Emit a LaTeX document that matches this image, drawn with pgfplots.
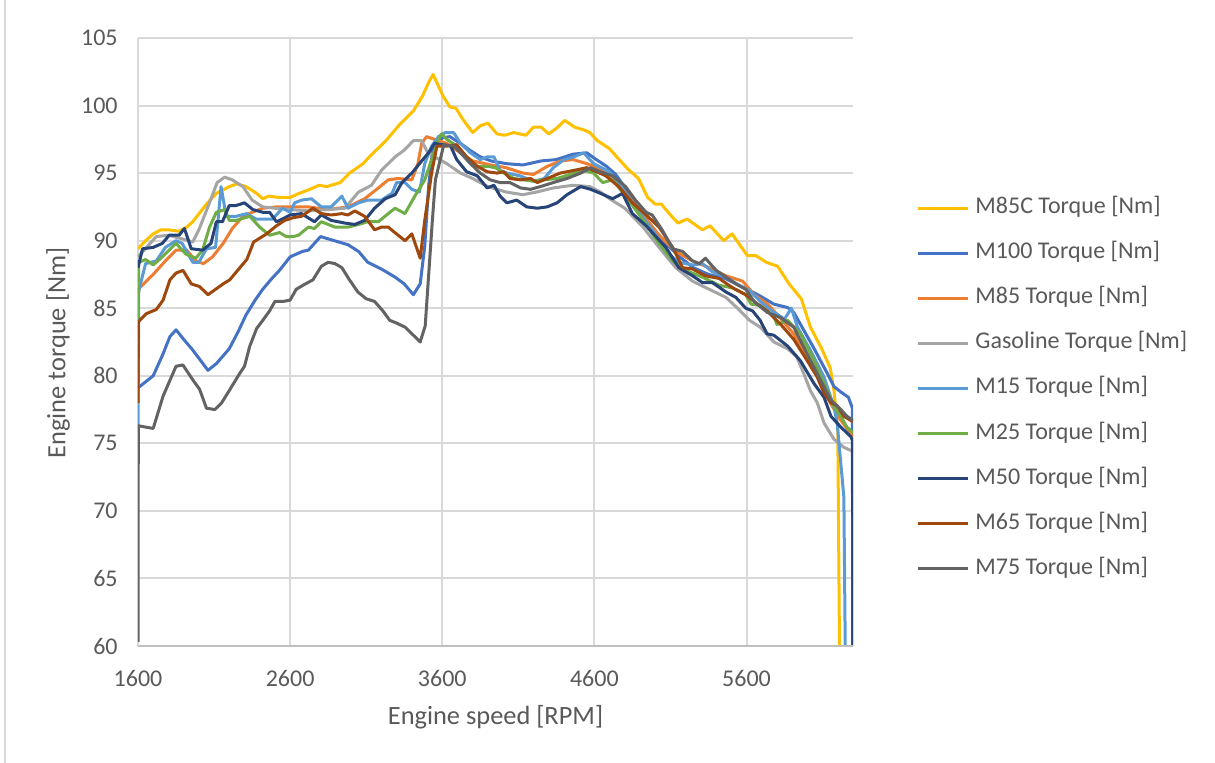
\documentclass[border=0pt]{standalone}
\usepackage{pgfplots}
\pgfplotsset{compat=1.18}
\usepackage{fontspec}
\setmainfont{Carlito}
\definecolor{cMeightyfiveC}{HTML}{FFC000}
\definecolor{cMhundred}{HTML}{4472C4}
\definecolor{cMeightyfive}{HTML}{ED7D31}
\definecolor{cGas}{HTML}{A5A5A5}
\definecolor{cMfifteen}{HTML}{5B9BD5}
\definecolor{cMtwentyfive}{HTML}{70AD47}
\definecolor{cMfifty}{HTML}{264478}
\definecolor{cMsixtyfive}{HTML}{9E480E}
\definecolor{cMseventyfive}{HTML}{636363}
\definecolor{gridc}{HTML}{D9D9D9}
\definecolor{txt}{HTML}{595959}
\definecolor{axc}{HTML}{BFBFBF}
\newcommand{\chartfont}{\fontsize{12}{14}\selectfont}
\newcommand{\titlefont}{\fontsize{13.2}{15}\selectfont}
\begin{document}
\begin{tikzpicture}
\path[use as bounding box] (0pt,0pt) rectangle (607.5pt,381.5pt);
\draw[gridc, line width=1pt] (2.5pt,0pt) -- (2.5pt,381.5pt);
\begin{axis}[
  at={(69pt,58.5pt)}, anchor=south west,
  scale only axis, width=357.5pt, height=304pt,
  xmin=1600, xmax=6300, ymin=60, ymax=105,
  xtick={1600,2600,3600,4600,5600},
  ytick={60,65,70,75,80,85,90,95,100,105},
  grid=major, major grid style={color=gridc, line width=1pt},
  axis line style={draw=none},
  tick style={draw=none},
  /pgf/number format/assume math mode=true,
  /pgf/number format/1000 sep={},
  ticklabel style={font=\chartfont, text=txt},
  yticklabel style={anchor=east, inner sep=0pt, xshift=-10pt},
  xticklabel style={anchor=center, inner sep=0pt, yshift=-16pt},
  xlabel={Engine speed [RPM]}, ylabel={Engine torque [Nm]},
  label style={font=\titlefont, text=txt},
  xlabel style={at={(axis description cs:0.5,0)}, anchor=center, yshift=-35.5pt},
  ylabel style={at={(axis description cs:-0.1119,0.482)}, anchor=center},
  every axis plot/.append style={line width=1.5pt, line join=round, no markers},
  legend style={at={(1.0881,0.4236)}, anchor=west, draw=none, fill=none,
    inner sep=0pt, font=\chartfont, text=txt, row sep=12.05pt, column sep=3pt,
    nodes={inner sep=0pt, text height=8pt, text depth=2.5pt}},
  legend cell align=left,
  legend image code/.code={\draw[line width=1.5pt] (0pt,0pt) -- (25pt,0pt);},
  after end axis/.code={\draw[axc, line width=1pt] (rel axis cs:0,0) -- (rel axis cs:1,0);},
]
% M85C
\addplot[color=cMeightyfiveC] coordinates {(1600,89.4)(1650,90.0)(1700,90.5)(1750,90.8)(1800,90.8)(1870,90.7)(1920,91.0)(1960,91.4)(2050,92.7)(2115,93.5)(2200,94.0)(2250,94.2)(2310,94.0)(2380,93.5)(2420,93.1)(2460,93.3)(2520,93.2)(2600,93.2)(2660,93.5)(2730,93.8)(2790,94.1)(2840,94.0)(2930,94.3)(2990,95.0)(3080,95.7)(3120,96.2)(3230,97.4)(3320,98.6)(3410,99.6)(3470,100.7)(3510,101.7)(3540,102.3)(3605,100.7)(3650,99.9)(3690,99.8)(3740,98.9)(3800,98.0)(3850,98.5)(3900,98.7)(3960,97.9)(4010,97.8)(4070,98.0)(4150,97.8)(4200,98.4)(4250,98.4)(4300,97.9)(4360,98.4)(4405,98.9)(4470,98.4)(4530,98.2)(4570,98.0)(4620,97.4)(4700,96.8)(4755,96.1)(4820,95.3)(4890,94.6)(4950,93.2)(5000,92.7)(5040,92.7)(5100,91.9)(5150,91.3)(5210,91.6)(5310,90.8)(5360,91.1)(5450,90.0)(5505,90.5)(5605,88.9)(5660,88.9)(5730,88.4)(5805,88.1)(5880,86.8)(5960,85.7)(6020,83.6)(6090,82.1)(6150,80.6)(6175,78.9)(6200,76.0)(6225,40)};
\addlegendentry{M85C Torque [Nm]}
% M100
\addplot[color=cMhundred] coordinates {(1600,79.1)(1700,80.0)(1760,81.5)(1810,82.9)(1850,83.4)(1900,82.7)(1960,81.9)(2060,80.4)(2115,80.9)(2200,82.0)(2260,83.3)(2310,84.5)(2370,85.6)(2420,86.4)(2480,87.2)(2530,87.8)(2600,88.8)(2680,89.2)(2720,89.3)(2800,90.3)(2890,90.0)(2980,89.7)(3050,89.2)(3110,88.4)(3200,87.9)(3290,87.3)(3350,86.8)(3410,86.0)(3455,86.8)(3485,89.6)(3510,94.0)(3540,97.0)(3600,97.6)(3650,97.7)(3720,97.2)(3780,96.7)(3850,96.2)(3920,95.9)(4020,95.7)(4130,95.6)(4250,95.9)(4350,96.0)(4460,96.4)(4550,96.5)(4600,96.1)(4680,95.5)(4740,94.9)(4810,93.8)(4890,92.3)(4980,91.0)(5070,89.8)(5160,88.8)(5250,88.0)(5350,87.5)(5460,87.2)(5550,86.7)(5640,86.2)(5690,85.9)(5780,85.3)(5870,85.05)(5910,84.7)(5955,83.8)(6040,82.1)(6130,80.2)(6175,79.2)(6220,78.8)(6270,78.4)(6296,77.6)(6300,40)};
\addlegendentry{M100 Torque [Nm]}
% M85
\addplot[color=cMeightyfive] coordinates {(1600,86.0)(1610,86.5)(1700,87.5)(1780,88.5)(1850,89.3)(1920,89.3)(1980,88.5)(2030,88.3)(2090,88.8)(2160,89.8)(2220,90.9)(2290,91.8)(2350,92.1)(2420,92.4)(2510,92.5)(2600,92.5)(2720,92.5)(2850,92.3)(2980,92.5)(3090,93.1)(3180,93.9)(3245,94.5)(3310,94.6)(3400,94.5)(3440,95.7)(3465,97.2)(3497,97.7)(3550,97.5)(3630,97.2)(3720,96.5)(3800,95.9)(3920,95.6)(4020,95.4)(4130,95.0)(4200,94.9)(4290,95.5)(4380,95.9)(4460,96.0)(4550,95.7)(4620,95.4)(4700,94.8)(4800,93.6)(4920,91.9)(5025,90.4)(5135,89.2)(5245,88.5)(5355,88.0)(5465,87.4)(5575,87.0)(5650,86.0)(5740,85.3)(5820,84.3)(5910,83.1)(6000,81.4)(6090,79.7)(6150,78.0)(6220,76.7)(6280,75.8)(6300,75.5)};
\addlegendentry{M85 Torque [Nm]}
% Gasoline
\addplot[color=cGas] coordinates {(1600,88.8)(1720,90.3)(1800,90.4)(1900,90.1)(1960,89.9)(2000,90.8)(2070,92.8)(2120,94.3)(2170,94.7)(2220,94.5)(2290,94.0)(2350,93.0)(2420,92.5)(2500,92.4)(2600,92.3)(2720,92.2)(2850,92.3)(2960,92.4)(3050,93.6)(3135,94.1)(3200,95.2)(3290,96.2)(3350,96.7)(3410,97.4)(3465,97.4)(3500,96.6)(3550,96.2)(3630,95.7)(3720,95.0)(3800,94.6)(3900,94.0)(4020,93.6)(4130,93.4)(4220,93.6)(4330,93.9)(4460,94.1)(4570,94.0)(4640,93.6)(4700,93.1)(4800,92.4)(4920,91.0)(5025,89.5)(5135,88.0)(5245,87.0)(5355,86.4)(5465,85.8)(5550,84.9)(5620,84.1)(5690,83.6)(5780,82.5)(5870,82.0)(5930,81.4)(5975,80.2)(6020,78.9)(6065,78.0)(6110,76.5)(6175,75.3)(6240,74.7)(6300,74.4)};
\addlegendentry{Gasoline Torque [Nm]}
% M15
\addplot[color=cMfifteen] coordinates {(1600,76.0)(1605,86.3)(1650,88.3)(1720,88.5)(1780,89.5)(1850,90.0)(1890,89.8)(1960,88.4)(2000,88.4)(2050,89.4)(2110,89.5)(2146,94.0)(2180,91.8)(2245,91.8)(2315,92.0)(2375,91.6)(2485,91.6)(2550,92.4)(2600,92.1)(2630,92.8)(2675,93.0)(2740,93.1)(2805,92.5)(2870,92.5)(2940,93.3)(2980,92.4)(3050,92.8)(3110,93.0)(3200,93.0)(3270,93.5)(3300,94.3)(3355,94.3)(3400,93.8)(3450,93.6)(3485,95.7)(3530,97.0)(3575,97.7)(3620,98.0)(3675,98.0)(3720,97.2)(3785,96.5)(3850,96.0)(3895,96.2)(3940,96.2)(3980,95.2)(4025,95.0)(4110,94.8)(4200,94.4)(4270,94.6)(4330,95.4)(4400,96.0)(4465,96.2)(4530,96.5)(4595,95.7)(4700,95.1)(4805,93.5)(4915,91.8)(5025,90.1)(5090,89.0)(5155,88.4)(5245,88.2)(5310,88.3)(5375,87.7)(5465,87.3)(5550,86.7)(5620,86.3)(5700,85.4)(5780,84.7)(5850,84.2)(5895,85.0)(5935,83.6)(6020,81.9)(6110,79.9)(6175,77.7)(6196,76.5)(6240,71.0)(6265,40)};
\addlegendentry{M15 Torque [Nm]}
% M25
\addplot[color=cMtwentyfive] coordinates {(1600,84.2)(1605,88.4)(1650,88.6)(1700,88.2)(1760,88.8)(1850,89.8)(1915,89.0)(1980,88.7)(2025,89.3)(2070,91.0)(2115,92.1)(2170,92.3)(2200,91.5)(2245,91.5)(2335,91.8)(2400,91.0)(2465,90.4)(2530,90.6)(2575,90.3)(2620,90.3)(2655,90.4)(2720,91.0)(2760,90.9)(2805,91.4)(2895,91.0)(2980,91.0)(3050,91.2)(3110,91.4)(3180,91.4)(3245,92.0)(3290,92.4)(3355,92.0)(3420,93.3)(3485,94.5)(3530,96.0)(3575,97.5)(3596,97.9)(3630,97.5)(3695,97.0)(3760,96.2)(3830,95.5)(3895,95.5)(3950,95.4)(4005,95.0)(4070,94.6)(4135,94.5)(4200,94.4)(4265,94.5)(4355,94.6)(4465,95.0)(4530,95.2)(4595,95.0)(4655,94.3)(4720,94.5)(4805,93.3)(4915,91.6)(5025,89.8)(5115,88.5)(5200,87.8)(5310,87.3)(5420,86.7)(5510,86.5)(5595,86.0)(5630,85.3)(5690,85.2)(5780,84.4)(5800,83.8)(5870,84.1)(5955,83.1)(6045,81.1)(6130,78.9)(6175,77.7)(6220,77.0)(6260,76.2)(6300,75.8)};
\addlegendentry{M25 Torque [Nm]}
% M50
\addplot[color=cMfifty] coordinates {(1600,88.0)(1630,89.4)(1700,89.5)(1760,89.8)(1805,90.4)(1870,90.4)(1905,90.9)(1950,89.4)(2025,89.3)(2080,89.8)(2115,91.4)(2155,91.4)(2200,92.6)(2245,92.6)(2300,92.8)(2355,92.3)(2420,92.1)(2465,92.1)(2510,91.4)(2550,91.6)(2600,91.9)(2675,92.0)(2760,91.4)(2805,91.9)(2870,91.5)(2960,91.3)(3025,91.2)(3090,91.5)(3155,92.4)(3225,93.1)(3290,93.4)(3335,94.3)(3400,95.0)(3465,95.9)(3510,96.5)(3550,97.2)(3600,97.1)(3655,97.0)(3695,96.0)(3760,95.1)(3830,94.8)(3895,93.9)(3940,94.1)(3980,93.3)(4025,92.8)(4090,93.0)(4155,92.5)(4225,92.4)(4290,92.5)(4355,92.8)(4420,93.4)(4510,94.0)(4575,93.8)(4640,93.5)(4720,93.1)(4785,93.5)(4850,92.0)(4940,91.1)(5005,90.3)(5070,89.5)(5155,88.0)(5245,87.4)(5310,86.9)(5375,86.9)(5465,86.2)(5530,85.8)(5595,85.0)(5640,84.8)(5690,84.1)(5735,83.1)(5780,83.0)(5870,82.2)(5955,81.1)(6045,79.4)(6110,78.4)(6155,77.0)(6220,76.2)(6285,75.5)(6298,75.2)(6300,40)};
\addlegendentry{M50 Torque [Nm]}
% M65
\addplot[color=cMsixtyfive] coordinates {(1600,78.0)(1603,84.0)(1655,84.6)(1720,84.9)(1765,85.6)(1810,87.1)(1850,87.6)(1896,87.8)(1950,86.8)(2005,86.6)(2060,86.0)(2110,86.4)(2160,86.8)(2203,87.1)(2270,88.0)(2315,88.6)(2360,89.9)(2445,90.5)(2510,91.1)(2565,91.5)(2620,91.7)(2675,91.8)(2750,92.4)(2805,92.0)(2870,91.9)(2940,92.0)(2980,91.9)(3025,92.2)(3090,91.8)(3155,90.8)(3200,91.0)(3245,91.0)(3310,90.4)(3355,90.0)(3400,90.5)(3455,88.7)(3485,91.5)(3530,95.0)(3565,97.0)(3630,97.0)(3695,97.1)(3760,96.2)(3830,95.5)(3895,95.1)(3960,95.0)(4005,95.1)(4045,94.6)(4115,94.5)(4180,94.6)(4225,94.3)(4290,94.6)(4375,95.0)(4465,95.2)(4550,95.4)(4615,95.1)(4675,94.8)(4760,94.0)(4850,92.8)(4940,91.9)(5025,91.0)(5115,89.5)(5180,88.0)(5245,87.9)(5330,87.4)(5420,87.2)(5510,86.5)(5595,86.0)(5650,85.5)(5735,84.8)(5825,83.8)(5910,82.7)(6000,81.1)(6065,79.9)(6110,78.7)(6155,78.0)(6195,77.8)(6240,77.0)(6285,76.7)(6300,76.6)};
\addlegendentry{M65 Torque [Nm]}
% M75
\addplot[color=cMseventyfive] coordinates {(1600,60.3)(1602,76.3)(1700,76.1)(1765,78.5)(1850,80.7)(1895,80.8)(1960,79.7)(2005,79.0)(2050,77.6)(2105,77.5)(2150,78.0)(2205,79.0)(2270,80.2)(2300,80.7)(2335,82.2)(2380,83.5)(2420,84.1)(2465,84.8)(2500,85.5)(2555,85.5)(2600,85.6)(2640,86.4)(2685,86.7)(2750,87.1)(2805,88.1)(2850,88.4)(2895,88.3)(2940,88.0)(2990,87.1)(3045,86.2)(3100,85.7)(3155,85.5)(3210,84.8)(3255,84.1)(3300,83.9)(3355,83.6)(3410,83.0)(3455,82.5)(3488,83.7)(3535,91.5)(3555,94.5)(3610,97.1)(3675,97.0)(3720,96.5)(3785,95.7)(3850,95.0)(3915,94.5)(3980,94.3)(4045,94.3)(4115,93.9)(4180,93.8)(4245,94.0)(4330,94.3)(4420,94.6)(4510,95.0)(4575,95.4)(4640,95.1)(4720,94.8)(4805,94.0)(4870,93.0)(4940,92.1)(4980,91.9)(5045,90.8)(5115,89.4)(5180,89.2)(5245,88.5)(5290,88.3)(5330,88.7)(5400,87.8)(5465,87.3)(5530,86.8)(5595,86.4)(5650,85.5)(5735,84.7)(5825,84.3)(5910,83.6)(6000,81.6)(6085,79.7)(6155,78.2)(6220,77.5)(6260,77.0)(6300,76.7)};
\addlegendentry{M75 Torque [Nm]}
\end{axis}
\end{tikzpicture}
\end{document}
